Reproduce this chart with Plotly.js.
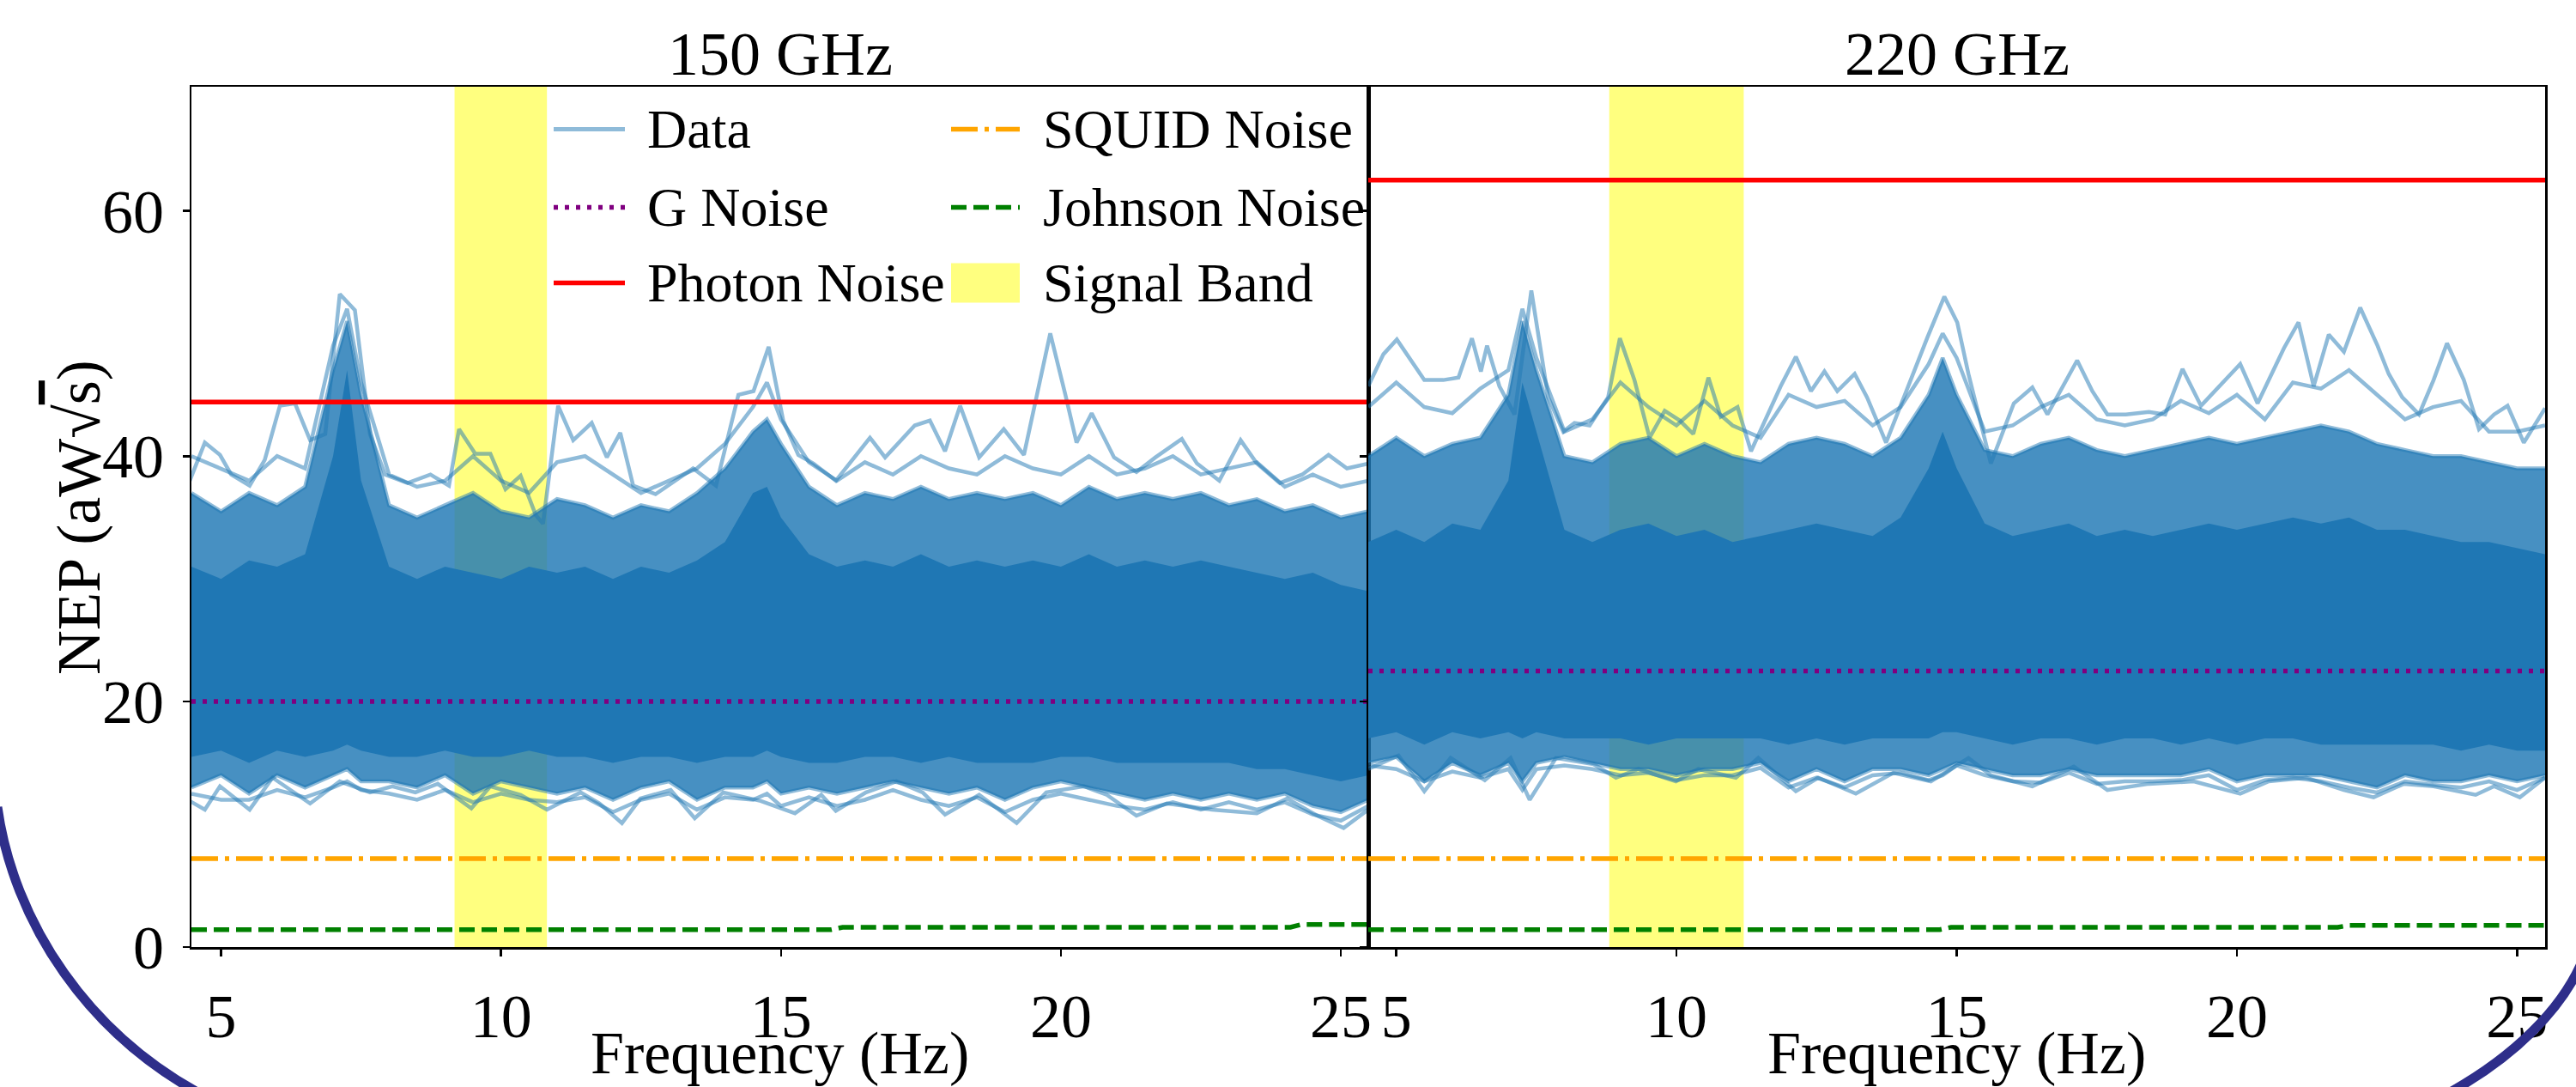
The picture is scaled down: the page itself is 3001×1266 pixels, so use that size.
<!DOCTYPE html>
<html>
<head>
<meta charset="utf-8">
<script src="https://cdn.plot.ly/plotly-3.0.1.min.js"></script>
<style>
html,body{margin:0;padding:0;background:#ffffff;}
#chart{width:3001px;height:1266px;}
</style>
</head>
<body>
<div id="chart"></div>
<script>
// ================= DATA =================
const panelTitles = ["150 GHz", "220 GHz"];
const xTitle = "Frequency (Hz)";
const yTitle = "NEP (aW√<span style=\"text-decoration:overline\">s</span>)";
const xTickVals = [5, 10, 15, 20, 25];
const yTickVals = [0, 20, 40, 60];
const freqRangeL = [4.47, 25.49];
const freqRangeR = [4.5, 25.5];
const nepRange = [0, 70.1];

const legendNames = ["Data", "G Noise", "Photon Noise", "SQUID Noise", "Johnson Noise", "Signal Band"];

// signal band (Hz)
const signalBandL = [9.17, 10.82];
const signalBandR = [8.8, 11.2];

// noise levels (aW sqrt(s))
const photonL = 44.4, photonR = 62.5;
const gNoiseL = 20.0, gNoiseR = 22.5;
const squidL = 7.2, squidR = 7.2;
const johnsonFreqL = [4.47, 15.9, 16.1, 24.1, 24.3, 25.49];
const johnsonL     = [1.42, 1.42, 1.61, 1.61, 1.84, 1.84];
const johnsonFreqR = [4.5, 14.7, 14.9, 21.8, 22.0, 25.5];
const johnsonR     = [1.42, 1.42, 1.61, 1.61, 1.77, 1.77];

// ---- 150 GHz detector NEP spectra: envelopes of the bundle ----
const maxFreqL = [4.44,4.71,4.98,5.18,5.51,5.78,6.05,6.32,6.59,6.86,7.12,7.39,7.66,7.93,8.33,8.74,9.07,9.25,9.54,9.81,10.08,10.35,10.62,10.75,11.02,11.29,11.62,11.89,12.13,12.36,12.76,13.43,13.84,14.24,14.51,14.78,15.04,15.31,15.58,15.98,16.59,16.86,17.39,17.66,17.93,18.20,18.54,18.98,19.34,19.81,20.08,20.28,20.55,20.95,21.35,21.69,22.16,22.43,22.83,23.21,23.50,23.91,24.31,24.78,25.11,25.49];
const maxNepL  = [38.0,41.1,40.1,38.5,37.6,39.7,44.1,44.3,41.3,41.8,53.2,51.9,41.8,38.5,37.8,38.5,37.6,42.2,40.2,40.2,37.3,38.4,35.2,34.5,44.1,41.3,42.7,39.9,41.9,37.6,36.9,39.0,37.6,45.0,45.3,48.9,42.9,40.1,39.4,38.0,41.5,39.9,42.5,42.9,40.4,44.1,39.9,42.2,40.1,50.0,45.0,41.1,43.5,39.9,38.7,39.9,41.4,39.4,38.0,41.3,39.4,37.8,38.5,40.1,39.0,39.4];
const minFreqL = [4.44,4.71,4.98,5.51,5.92,6.59,7.12,7.66,8.06,8.47,8.87,9.47,9.81,10.35,10.82,11.42,11.76,12.16,12.49,13.03,13.46,13.97,14.64,15.25,15.72,15.98,16.52,17.06,17.53,17.93,18.54,19.21,19.74,20.41,20.82,21.35,21.89,22.70,23.50,24.04,24.58,25.05,25.49];
const minNepL  = [11.9,11.2,13.1,11.2,13.8,11.7,13.5,12.6,13.1,12.6,13.3,11.3,13.1,12.4,11.2,12.6,11.7,10.1,12.1,12.8,10.5,12.6,11.9,10.9,12.4,11.1,12.6,13.5,12.6,10.8,12.4,10.1,12.6,13.1,12.4,10.7,11.7,11.2,10.9,12.1,10.7,9.7,11.2];
const gridL     = [4.47,5.0,5.5,6.0,6.5,7.0,7.25,7.5,8.0,8.5,9.0,9.5,10.0,10.5,11.0,11.5,12.0,12.5,13.0,13.5,14.0,14.5,14.75,15.0,15.5,16.0,16.5,17.0,17.5,18.0,18.5,19.0,19.5,20.0,20.5,21.0,21.5,22.0,22.5,23.0,23.5,24.0,24.5,25.0,25.49];
const fringeHiL = [40,39,38,40,39,49,52,46,38.5,37.5,38,40,38,37,39.5,40,38.5,37,38,39,41,44,46,43,39.5,38,39.5,38.5,40,39,38.5,40,39,38.5,40,38.5,39,40,38.5,39,39.5,37.5,38.5,37.5,38];
const midHiL    = [37,35.5,37,36,37.5,47,51,45,36,35,36,37,35.5,35,36.5,36,35,36,35.5,37,39,42,43,41,37.5,36,37,36.5,37.5,36.5,37,36.5,37,36,37.5,36.5,37,36.5,37,36,36.5,35.5,36,35,35.5];
const coreHiL   = [31,30,31.5,31,32,40,47,38,31,30,31,30.5,30,31,30.5,31,30,31,30.5,31.5,33,37,37.5,35,32,31,31.5,31,32,31,31.5,31,31.5,31,32,31,31.5,31,31.5,31,30.5,30,30.5,29.5,29];
const coreLoL   = [15.5,16,15,16,15.5,16,16.5,16,15.5,15.5,16,15.5,15.5,16,15.5,15.5,15,15.5,15.5,15,15.5,15.5,16,15.5,15,15,15.5,15.5,15,15.5,15,15,15,15.5,15.5,15,15,15,15,15,14.5,14.5,14,13.5,14];
const midLoL    = [13,14,12.5,14,13,14,14.5,13.5,13.5,13,14,12.5,13.5,13,12.5,13,12,13,13.5,12,13,13,13.5,12.5,13,12.5,13,13.5,13,12.5,13,12,13,13.5,13,12.5,12,12.5,12,12.5,12,12.5,11.5,11,12];
const fringeLoL = [12.5,12,12,12.8,12.2,13,13.5,12.8,12.5,12,12.8,11.8,12.5,12,11.8,12.2,11,12,12.5,11.2,12.2,12,12.5,11.5,12.2,11.5,12,12.8,12,11.5,12.2,11,12,12.5,12,11.5,11.2,11.8,11.2,11.8,11.2,11.8,10.8,10.3,11.5];

// ---- 220 GHz detector NEP spectra: envelopes of the bundle ----
const maxFreqR = [4.50,4.77,5.01,5.30,5.50,5.84,6.11,6.35,6.51,6.62,6.84,7.11,7.41,7.71,7.98,8.18,8.45,8.78,8.99,9.25,9.52,9.79,10.06,10.30,10.57,10.79,11.09,11.33,11.86,12.13,12.40,12.64,12.87,13.18,13.40,13.74,14.21,14.48,14.78,15.01,15.21,15.61,16.02,16.35,16.62,17.15,17.42,17.69,18.02,18.43,18.72,19.03,19.36,19.76,20.06,20.37,20.84,21.10,21.37,21.64,21.91,22.20,22.51,22.71,22.95,23.25,23.51,23.75,24.05,24.32,24.59,24.83,25.12,25.50];
const maxNepR  = [45.7,48.3,49.5,47.6,46.2,46.2,46.4,49.6,46.9,49.0,45.7,43.4,53.5,44.8,42.0,42.7,42.5,44.8,49.6,46.2,41.5,43.7,42.9,41.8,46.4,43.2,44.0,40.4,45.7,48.1,45.3,46.9,45.3,46.7,44.8,41.1,46.7,49.7,53.0,50.9,46.7,39.4,44.3,45.6,43.4,47.8,45.3,43.4,43.4,43.6,43.4,47.1,44.1,46.0,47.5,44.3,48.8,50.9,45.7,49.9,48.5,52.1,49.0,46.7,44.8,43.4,46.2,49.2,46.2,42.2,43.4,44.1,41.1,43.9];
const minFreqR = [4.50,5.04,5.50,5.97,6.58,7.04,7.38,7.85,8.52,8.92,9.32,9.99,10.39,11.06,11.46,12.13,12.53,13.20,13.87,14.54,15.21,15.61,16.35,17.09,17.69,18.43,19.23,20.06,20.57,21.24,21.91,22.44,22.98,23.51,24.26,24.59,25.05,25.50];
const minNepR  = [14.5,15.6,12.7,15.4,13.6,15.4,12.0,15.4,14.9,13.8,14.5,13.5,14.5,13.8,15.4,12.7,13.8,12.5,14.2,13.5,15.4,14.0,13.1,14.7,12.8,13.3,13.5,12.5,13.5,13.8,12.8,12.2,13.3,13.1,12.4,13.1,12.2,13.8];
const gridR     = [4.5,5.0,5.5,6.0,6.5,7.0,7.25,7.5,8.0,8.5,9.0,9.5,10.0,10.5,11.0,11.5,12.0,12.5,13.0,13.5,14.0,14.5,14.75,15.0,15.5,16.0,16.5,17.0,17.5,18.0,18.5,19.0,19.5,20.0,20.5,21.0,21.5,22.0,22.5,23.0,23.5,24.0,24.5,25.0,25.5];
const fringeHiR = [44,46,44,43.5,45.5,47,52,48,42,43,46,44,42.5,44.5,42.5,41.5,45,44,44.5,42.5,44,47.5,50,48,42,42.5,44,45,43,42.5,43,44.5,43.5,45,43,46,45.5,47,45,43,44,44.5,42,42,42.5];
const midHiR    = [40,41.5,40,41,41.5,45,51,47,40,39.5,41,41.5,40,41,40,39.5,41,41.5,41,40,41.5,45,48,45,40.5,40,41,41.5,40.5,40,40.5,41,41.5,41,41.5,42,42.5,42,41,40.5,40,40,39.5,39,39];
const coreHiR   = [33,34,33,34.5,34,38,46,42,34,33,34,34.5,33.5,34,33,33.5,34,34.5,34,33.5,35,39,42,39,34.5,33.5,34,34.5,33.5,34,33.5,34,34.5,34,34.5,35,34.5,35,34,34,33.5,33,33,32.5,32];
const coreLoR   = [17,17.5,16.5,17.5,17,17.5,17,17.5,17,17,17,16.5,17,17,17,17,16.5,17,16.5,17,17,17,17.5,17.5,17,16.5,17,17,16.5,17,17,16.5,17,16.5,17,17,16.5,16.5,16.5,16.5,16.5,16,16.5,16,16];
const midLoR    = [15,15.5,13.5,15,14,15,13.5,15,15.5,15,14.5,14.5,14,14.5,14.5,15,13.5,14.5,13.5,14.5,14.5,14,14.5,15,14.5,14,14,14.5,14,14,14,14,14.5,13.5,14,14,14,13.5,13,14,13.5,13.5,14,13.5,14];
const fringeLoR = [14.8,14.5,13.5,14.3,13.8,14.5,12.8,14.5,14.8,14.5,14,14.2,13.6,14,14,14.6,13,13.8,13,14,14.2,13.6,14,14.8,14,13.5,13.4,14.2,13.3,13.5,13.5,13.6,14,12.8,13.6,13.8,13.5,13,12.6,13.5,13.2,13,13.5,12.8,13.8];

// ================= STYLE / GEOMETRY =================
const FONT = "Liberation Serif, Times New Roman, serif";
const C0 = "#1f77b4";
const C0a = "rgba(31,119,180,0.5)";
const MID = "rgba(31,119,180,0.82)";
const YEL = "rgba(255,255,0,0.5)";
const W = 3001, H = 1266;
const M = {l: 223, r: 36, t: 101, b: 163};
const PW = W - M.l - M.r, PH = H - M.t - M.b;
const fx = px => (px - M.l) / PW;        // pixel -> paper x
const fy = py => (H - M.b - py) / PH;    // pixel -> paper y

const dashDot = "31px,8px,5px,8px";
const dashed = "18px,8px";
const dotted = "5px,8px";
const LW = 5.5;
const DW = 4.5;

function bandPoly(x, lo, hi, color, xa, ya) {
  return {x: x.concat(x.slice().reverse()), y: hi.concat(lo.slice().reverse()),
    type: "scatter", mode: "lines", fill: "toself", fillcolor: color,
    line: {width: 0, color: color}, xaxis: xa, yaxis: ya, hoverinfo: "skip", showlegend: false};
}
function lineTr(x, y, color, width, dash, xa, ya) {
  return {x: x, y: y, type: "scatter", mode: "lines",
    line: {color: color, width: width, dash: dash || "solid"},
    xaxis: xa, yaxis: ya, hoverinfo: "skip", showlegend: false};
}
const flat = (rng, v) => [[rng[0], rng[1]], [v, v]];

const traces = [];
function bundle(grid, fHi, mHi, cHi, cLo, mLo, fLo, mxF, mxV, mnF, mnV, xa, ya) {
  traces.push(bandPoly(grid, mLo, mHi, MID, xa, ya));
  traces.push(bandPoly(grid, cLo, cHi, C0, xa, ya));
  traces.push(lineTr(grid, mHi, C0a, DW, null, xa, ya));
  traces.push(lineTr(grid, mLo, C0a, DW, null, xa, ya));
  traces.push(lineTr(grid, fHi, C0a, DW, null, xa, ya));
  traces.push(lineTr(grid, fLo, C0a, DW, null, xa, ya));
  traces.push(lineTr(mxF, mxV, C0a, DW, null, xa, ya));
  traces.push(lineTr(mnF, mnV, C0a, DW, null, xa, ya));
}
bundle(gridL, fringeHiL, midHiL, coreHiL, coreLoL, midLoL, fringeLoL, maxFreqL, maxNepL, minFreqL, minNepL, "x", "y");
bundle(gridR, fringeHiR, midHiR, coreHiR, coreLoR, midLoR, fringeLoR, maxFreqR, maxNepR, minFreqR, minNepR, "x2", "y2");

// noise lines
[["x","y",freqRangeL,gNoiseL,photonL,squidL,johnsonFreqL,johnsonL],
 ["x2","y2",freqRangeR,gNoiseR,photonR,squidR,johnsonFreqR,johnsonR]].forEach(p => {
  const [xa, ya, rng, g, ph, sq, jf, jv] = p;
  let f = flat(rng, g);  traces.push(lineTr(f[0], f[1], "#800080", LW, dotted, xa, ya));
  f = flat(rng, ph);     traces.push(lineTr(f[0], f[1], "#ff0000", LW, null, xa, ya));
  f = flat(rng, sq);     traces.push(lineTr(f[0], f[1], "#ffa500", LW, dashDot, xa, ya));
  traces.push(lineTr(jf, jv, "#008000", LW, dashed, xa, ya));
});

const axisCommon = {
  showgrid: false, zeroline: false, showline: true, linecolor: "#000", linewidth: 2.5,
  mirror: true, ticks: "outside", ticklen: 8, tickwidth: 2.5, tickcolor: "#000",
  tickfont: {family: FONT, size: 72, color: "#000"}
};

const shapes = [
  {type: "rect", xref: "x", yref: "y domain", x0: signalBandL[0], x1: signalBandL[1], y0: 0, y1: 1,
   fillcolor: YEL, line: {width: 0}, layer: "below"},
  {type: "rect", xref: "x2", yref: "y2 domain", x0: signalBandR[0], x1: signalBandR[1], y0: 0, y1: 1,
   fillcolor: YEL, line: {width: 0}, layer: "below"},
];

// custom legend (2 columns x 3 rows)
const rowY = [150.5, 241.5, 329.5];
const col1 = [645, 728, 752], col2 = [1108, 1188, 1213];
const legendLines = [
  [col1, rowY[0], C0a, null, 5],
  [col1, rowY[1], "#800080", dotted, LW],
  [col1, rowY[2], "#ff0000", null, LW],
  [col2, rowY[0], "#ffa500", dashDot, LW],
  [col2, rowY[1], "#008000", dashed, LW],
];
legendLines.forEach(l => {
  shapes.push({type: "line", xref: "paper", yref: "paper", x0: fx(l[0][0]), x1: fx(l[0][1]),
    y0: fy(l[1]), y1: fy(l[1]), line: {color: l[2], width: l[4], dash: l[3] || "solid"}, layer: "above"});
});
shapes.push({type: "rect", xref: "paper", yref: "paper", x0: fx(col2[0]), x1: fx(col2[1]),
  y0: fy(rowY[2] + 23), y1: fy(rowY[2] - 23), fillcolor: YEL, line: {width: 0}, layer: "above"});

// slide decoration arcs
const P = (x, y) => fx(x) + "," + fy(y);
shapes.push({type: "path", xref: "paper", yref: "paper",
  path: "M" + P(-3, 940) + " C" + P(15, 1070) + " " + P(100, 1210) + " " + P(255, 1285),
  line: {color: "#2e2e8a", width: 11}, layer: "above"});
shapes.push({type: "path", xref: "paper", yref: "paper",
  path: "M" + P(3012, 1110) + " C" + P(2990, 1170) + " " + P(2930, 1235) + " " + P(2830, 1285),
  line: {color: "#2e2e8a", width: 11}, layer: "above"});

const annotations = [];
const legendCols = [[col1, 0], [col1, 1], [col1, 2], [col2, 0], [col2, 1], [col2, 2]];
legendNames.forEach((n, i) => {
  const c = legendCols[i];
  annotations.push({text: n, xref: "paper", yref: "paper", x: fx(c[0][2]), y: fy(rowY[c[1]]),
    xanchor: "left", yanchor: "middle", showarrow: false, font: {family: FONT, size: 64, color: "#000"}});
});
[0.25, 0.75].forEach((cx, i) => {
  annotations.push({text: panelTitles[i], xref: "paper", yref: "paper", x: cx, y: fy(63),
    xanchor: "center", yanchor: "middle", showarrow: false, font: {family: FONT, size: 72, color: "#000"}});
  annotations.push({text: xTitle, xref: "paper", yref: "paper", x: cx, y: fy(1226),
    xanchor: "center", yanchor: "middle", showarrow: false, font: {family: FONT, size: 70, color: "#000"}});
});
annotations.push({text: yTitle, xref: "paper", yref: "paper", x: fx(92), y: fy(603), textangle: -90,
  xanchor: "center", yanchor: "middle", showarrow: false, font: {family: FONT, size: 72, color: "#000"}});

const layout = {
  width: W, height: H, margin: {l: M.l, r: M.r, t: M.t, b: M.b, pad: 0},
  paper_bgcolor: "#fff", plot_bgcolor: "#fff", showlegend: false, hovermode: false,
  xaxis: Object.assign({}, axisCommon, {domain: [0, 0.5], range: freqRangeL, tickvals: xTickVals, anchor: "y", ticklabelstandoff: 8}),
  xaxis2: Object.assign({}, axisCommon, {domain: [0.5, 1], range: freqRangeR, tickvals: xTickVals, anchor: "y2", ticklabelstandoff: 8}),
  yaxis: Object.assign({}, axisCommon, {domain: [0, 1], range: nepRange, tickvals: yTickVals, anchor: "x", ticklabelstandoff: 7}),
  yaxis2: Object.assign({}, axisCommon, {domain: [0, 1], range: nepRange, tickvals: yTickVals, anchor: "x2",
    matches: "y", showticklabels: false}),
  shapes: shapes, annotations: annotations
};

Plotly.newPlot("chart", traces, layout, {staticPlot: true, displayModeBar: false});
</script>
</body>
</html>
